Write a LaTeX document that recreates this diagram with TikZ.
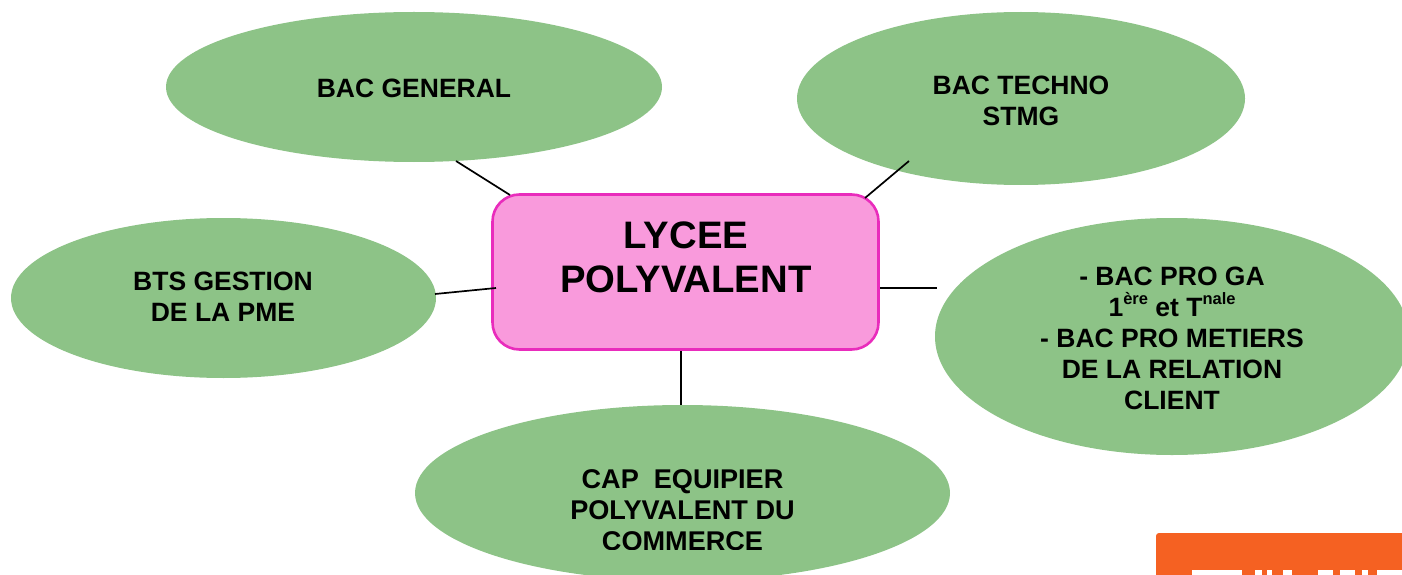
\documentclass[tikz,border=0pt]{standalone}
\usepackage{fontspec}
\setmainfont{Liberation Sans}
\usetikzlibrary{shapes.geometric}
\definecolor{ovalgreen}{HTML}{8DC387}
\definecolor{boxfill}{HTML}{F99ADC}
\definecolor{boxline}{HTML}{E92CBC}
\definecolor{badge}{HTML}{F56122}
\newcommand{\supr}[1]{\raisebox{11.5pt}{\fontsize{16.5}{16.5}\selectfont #1}}
\tikzset{
  x=1pt,y=-1pt,
  oval/.style={ellipse,fill=ovalgreen,draw=none,inner sep=0pt},
  ovaltext/.style={align=center,font=\fontsize{26.5}{31}\selectfont\bfseries,text=black,inner sep=0pt},
  link/.style={draw=black,line width=1.7pt},
}
\begin{document}
\begin{tikzpicture}
\useasboundingbox (0,0) rectangle (1402,575);
\clip (0,0) rectangle (1402,575);
% ovals
\node[oval,minimum width=496pt,minimum height=150pt] (gen) at (414,87) {};
\node[oval,minimum width=448pt,minimum height=173pt] (tech) at (1021,98.5) {};
\node[oval,minimum width=425pt,minimum height=160pt] (bts) at (223.5,298) {};
\node[oval,minimum width=474pt,minimum height=237pt] (pro) at (1172,336.5) {};
\node[oval,minimum width=535pt,minimum height=176pt] (cap) at (682.5,493) {};
% central box
\node[draw=boxline,fill=boxfill,line width=2.6pt,rounded corners=27pt,minimum width=386pt,minimum height=155pt,inner sep=0pt] (lycee) at (685.5,272) {};
% link ends
\coordinate (g1) at (456,161); \coordinate (g2) at (510,195);
\coordinate (t1) at (909,161); \coordinate (t2) at (865,198);
\coordinate (b1) at (435,294); \coordinate (b2) at (496,288);
\coordinate (p1) at (880,288); \coordinate (p2) at (937,288);
\coordinate (c1) at (681,351); \coordinate (c2) at (681,405);
\draw[link] (g1) -- (g2);
\draw[link] (t1) -- (t2);
\draw[link] (b1) -- (b2);
\draw[link] (p1) -- (p2);
\draw[link] (c1) -- (c2);
% labels
\node[ovaltext] (genT) at (414,88.5) {BAC GENERAL};
\node[ovaltext] (techT) at (1021,101) {BAC TECHNO\\STMG};
\node[ovaltext] (btsT) at (223,296.5) {BTS GESTION\\DE LA PME};
\node[ovaltext] (proT) at (1172,338) {- BAC PRO GA\\1\supr{ère} et T\supr{nale}\\- BAC PRO METIERS\\DE LA RELATION\\CLIENT};
\begin{scope}
\clip (400,400) rectangle (960,549);
\node[ovaltext,font=\fontsize{27.1}{31}\selectfont\bfseries] (capT) at (682.5,510.5) {CAP\ \ EQUIPIER\\POLYVALENT DU\\COMMERCE};
\end{scope}
\node[align=center,inner sep=0pt,font=\fontsize{38.3}{44}\selectfont\bfseries] (lyT) at (686,257) {LYCEE\\POLYVALENT};
% corner badge
\fill[badge,rounded corners=3pt] (1156,533) rectangle (1420,600);
\foreach \a/\b in {1192/1242,1255/1262,1267/1272,1283/1292,1318/1333,1340/1355,1362/1368,1377/1402}
  \fill[white] (\a,570) rectangle (\b,576);
\end{tikzpicture}
\end{document}
